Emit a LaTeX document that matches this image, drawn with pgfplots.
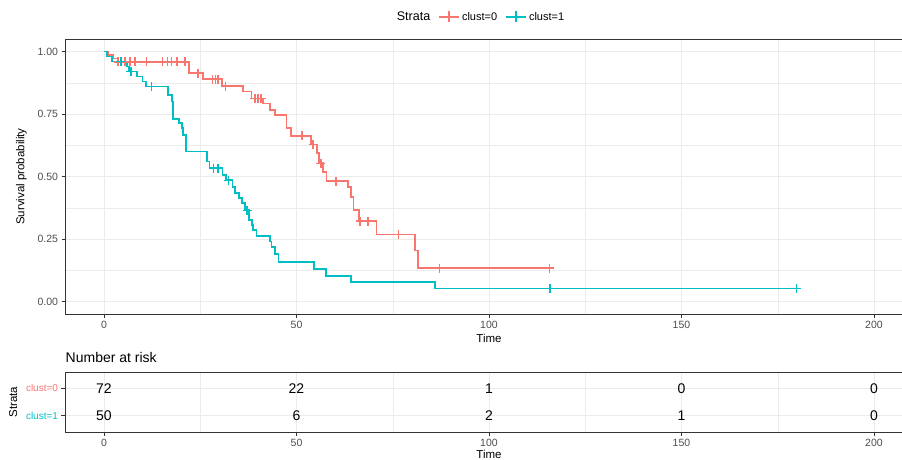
\documentclass[border=0pt]{standalone}
\usepackage{pgfplots}
\pgfplotsset{compat=1.18}
\usepackage{fontspec}
\setmainfont{Liberation Sans}
\definecolor{kmred}{HTML}{F8766D}
\definecolor{kmblue}{HTML}{00BFC4}
\definecolor{gridc}{HTML}{EBEBEB}
\definecolor{txtc}{HTML}{4D4D4D}
\definecolor{bord}{HTML}{333333}

\pgfplotstableread{
t S
0 1.000
1.0 0.986
2.4 0.972
3.5 0.958
22.0 0.913
25.8 0.889
30.7 0.862
36.2 0.840
38.3 0.812
41.4 0.792
43.1 0.766
44.5 0.745
47.4 0.693
48.5 0.663
53.8 0.628
55.4 0.595
55.9 0.553
56.9 0.518
57.8 0.481
63.4 0.457
64.1 0.417
64.8 0.365
66.2 0.322
70.8 0.268
80.8 0.204
81.6 0.134
115.7 0.134
}\redsteps

\pgfplotstableread{
t S
3.7 0.958
4.6 0.958
5.5 0.958
6.8 0.958
8.1 0.958
11.1 0.958
15.2 0.958
16.5 0.958
17.5 0.958
19.0 0.958
21.0 0.958
24.4 0.913
28.2 0.889
28.9 0.889
29.6 0.889
31.5 0.862
39.2 0.812
40.0 0.812
40.8 0.812
51.4 0.663
54.3 0.628
56.3 0.553
60.3 0.481
66.5 0.322
68.6 0.322
76.5 0.268
87.2 0.134
115.7 0.134
}\redcens

\pgfplotstableread{
t S
0 1.000
0.8 0.980
2.0 0.960
6.0 0.940
6.5 0.920
8.5 0.900
10.0 0.880
11.0 0.860
16.6 0.826
17.6 0.800
18.0 0.730
19.4 0.713
20.2 0.693
20.6 0.665
21.3 0.600
26.8 0.560
27.4 0.533
30.8 0.505
31.6 0.485
33.4 0.458
34.0 0.434
35.1 0.413
35.8 0.393
36.6 0.365
37.7 0.325
38.4 0.305
38.8 0.285
39.6 0.262
43.1 0.240
43.5 0.218
44.4 0.190
45.3 0.157
54.5 0.131
57.6 0.103
64.1 0.078
86.0 0.052
179.9 0.052
}\bluesteps

\pgfplotstableread{
t S
4.4 0.960
7.0 0.920
12.4 0.860
28.4 0.533
29.6 0.533
32.3 0.485
37.2 0.365
115.8 0.052
179.9 0.052
}\bluecens

\pgfplotsset{
  kmaxis/.style={
    scale only axis, anchor=south west,
    width=847pt,
    xmin=-10, xmax=210,
    xtick={0,50,100,150,200}, minor xtick={25,75,125,175},
    grid=both,
    major grid style={gridc, line width=0.8pt},
    minor grid style={gridc, line width=0.5pt},
    axis line style={bord, line width=0.8pt},
    tick align=outside, major tick length=4pt, minor tick length=0pt,
    tick style={bord, line width=0.7pt},
    xtick pos=lower, ytick pos=left,
    ticklabel style={font=\fontsize{10.5}{11}\selectfont, text=txtc},
    /pgf/number format/assume math mode=true,
    label style={font=\fontsize{11.5}{12}\selectfont, text=black},
  }
}

\begin{document}
\begin{tikzpicture}
\useasboundingbox (0,0) rectangle (902pt,459pt);

\begin{axis}[kmaxis,
  at={(65.5pt,145pt)}, height=275pt,
  ymin=-0.05, ymax=1.05,
  ytick={0,0.25,0.5,0.75,1}, minor ytick={0.125,0.375,0.625,0.875},
  yticklabel style={/pgf/number format/fixed, /pgf/number format/precision=2, /pgf/number format/fixed zerofill},
  xlabel={Time}, ylabel={Survival probability},
  xlabel style={at={(ticklabel cs:0.5)}, anchor=near ticklabel, yshift=2pt},
  ylabel style={yshift=4pt},
  legend style={at={(0.49,1.08)}, anchor=center, draw=none, fill=none,
    font=\fontsize{11}{12}\selectfont,
    /tikz/every even column/.append style={column sep=6pt}},
  legend columns=-1,
  legend image code/.code={\draw[#1] (0pt,0pt) -- (20pt,0pt); \draw[#1, mark repeat=1] plot coordinates {(10pt,0pt)};},
]
\addlegendimage{empty legend}
\addlegendentry{\fontsize{12.5}{13}\selectfont Strata}
\addlegendimage{kmred, line width=1.8pt, mark=+, mark size=5.5pt}
\addlegendentry{clust=0}
\addlegendimage{kmblue, line width=1.8pt, mark=+, mark size=5.5pt}
\addlegendentry{clust=1}

\addplot[kmred, line width=1.8pt, const plot, forget plot] table[x=t, y=S] {\redsteps};
\addplot[kmblue, line width=1.8pt, const plot, forget plot] table[x=t, y=S] {\bluesteps};
\addplot[kmred, only marks, mark=+, mark size=4.5pt, line width=1.5pt, forget plot] table[x=t, y=S] {\redcens};
\addplot[kmblue, only marks, mark=+, mark size=4.5pt, line width=1.5pt, forget plot] table[x=t, y=S] {\bluecens};
\end{axis}

\begin{axis}[kmaxis,
  at={(65.5pt,27pt)}, height=60pt,
  ymin=0.4, ymax=2.6,
  ytick={1,2}, yticklabels={{\textcolor{kmblue}{clust=1}},{\textcolor{kmred}{clust=0}}},
  yticklabel style={font=\fontsize{10}{11}\selectfont},
  xlabel={Time}, ylabel={Strata},
  xlabel style={at={(ticklabel cs:0.5)}, anchor=near ticklabel, yshift=4pt},
  ylabel style={yshift=2pt},
  title={Number at risk},
  title style={at={(0,1)}, anchor=south west, inner xsep=0pt, font=\fontsize{14}{15}\selectfont, yshift=0pt},
]
\node[font=\fontsize{14}{15}\selectfont] at (axis cs:0,2) {72};
\node[font=\fontsize{14}{15}\selectfont] at (axis cs:50,2) {22};
\node[font=\fontsize{14}{15}\selectfont] at (axis cs:100,2) {1};
\node[font=\fontsize{14}{15}\selectfont] at (axis cs:150,2) {0};
\node[font=\fontsize{14}{15}\selectfont] at (axis cs:200,2) {0};
\node[font=\fontsize{14}{15}\selectfont] at (axis cs:0,1) {50};
\node[font=\fontsize{14}{15}\selectfont] at (axis cs:50,1) {6};
\node[font=\fontsize{14}{15}\selectfont] at (axis cs:100,1) {2};
\node[font=\fontsize{14}{15}\selectfont] at (axis cs:150,1) {1};
\node[font=\fontsize{14}{15}\selectfont] at (axis cs:200,1) {0};
\end{axis}
\end{tikzpicture}
\end{document}
